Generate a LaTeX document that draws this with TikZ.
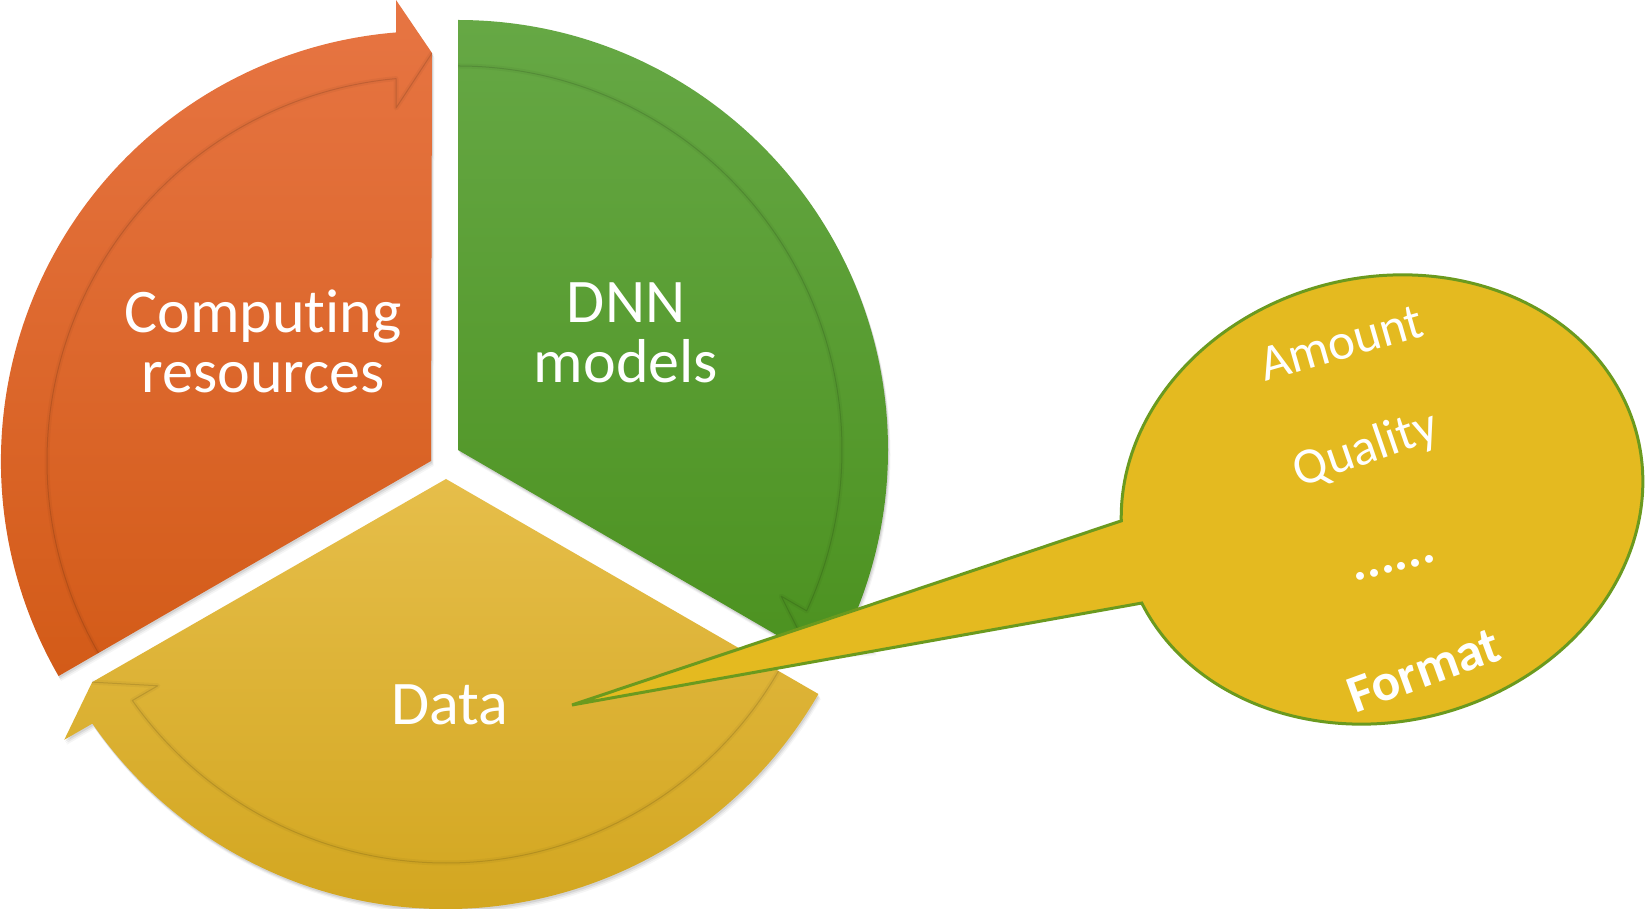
\documentclass[tikz,border=0pt]{standalone}
\usepackage{fontspec}
\setmainfont[Ligatures=NoCommon]{Carlito}
\definecolor{orTop}{HTML}{E77543}
\definecolor{orBot}{HTML}{D35B18}
\definecolor{grTop}{HTML}{66A845}
\definecolor{grBot}{HTML}{4C9220}
\definecolor{yeTop}{HTML}{E6BE4A}
\definecolor{yeBot}{HTML}{D0A31A}
\definecolor{calloutfill}{HTML}{E4BA20}
\definecolor{calloutborder}{HTML}{6B9A1E}
% outline of one cycle segment (pie sector whose rim is a curved arrow); #1 = angle of the edge the arrow points to
\newcommand\segpathof[1]{(0,0) -- ({#1+120}:430) arc[start angle={#1+120}, end angle={#1+4.67}, radius=430] -- ({#1+4.34}:462.3) -- ({#1-0.14}:408) -- cycle}
\newcommand\seginnerof[1]{({#1+120}:384) arc[start angle={#1+120}, end angle={#1+5.23}, radius=384] -- ({#1+5.66}:354.7) -- ({#1-0.14}:408)}
\newcommand\cycseg[4]{%
  \begin{scope}[shift={#1}]
    \foreach \s/\o in {5/0.04,3.5/0.06,2/0.08}{
      \begin{scope}[shift={(0.5*\s,-\s)}]
        \fill[black, opacity=\o] \segpathof{#2};
      \end{scope}
    }
    \shade[top color=#3, bottom color=#4] \segpathof{#2};
    \draw[innershade] \seginnerof{#2};
    \draw[innerline] \seginnerof{#2};
  \end{scope}}
\begin{document}
\begin{tikzpicture}[x=1pt,y=1pt,
  lbl/.style={text=white, font=\fontsize{62}{60}\selectfont, align=center, inner sep=0pt},
  clbl/.style={text=white, font=\fontsize{51}{51}\selectfont, inner sep=0pt},
  clblb/.style={text=white, font=\fontsize{53}{53}\selectfont\bfseries, inner sep=0pt},
  innerline/.style={draw=black, line width=1pt, opacity=0.12, line join=round},
  innershade/.style={draw=black, line width=5pt, opacity=0.035, line join=round},
  callout/.style={fill=calloutfill, draw=calloutborder, line width=3pt, line join=miter},
]
\useasboundingbox (0,0) rectangle (1647,908);
\fill[white] (0,0) rectangle (1647,908);

% three segments of the cycle
\cycseg{(431,447)}{90}{orTop}{orBot}
\cycseg{(458,458)}{-30}{grTop}{grBot}
\cycseg{(446,429)}{210}{yeTop}{yeBot}

% labels
\node[lbl, anchor=base] (comp) at (263,515) {Computing\\resources};
\node[lbl, anchor=base] (dnn) at (626,525) {DNN\\models};
\node[lbl, anchor=base] (data) at (450,183) {Data};

% callout
\coordinate (ctip) at (572,203);
\begin{scope}[shift={(1382,408.5)}, rotate=14]
  \path[callout] (191:263 and 222) arc[start angle=191, end angle=529, x radius=263, y radius=222] -- (ctip) -- cycle;
\end{scope}

\node[clbl, rotate=16] (amount) at (1341,565) {Amount};
\node[clbl, rotate=19] (quality) at (1366,458) {Quality};
\node[clblb, rotate=14] (dots) at (1395,340) {......};
\node[clblb, rotate=20] (format) at (1424,238) {Format};
\end{tikzpicture}
\end{document}
